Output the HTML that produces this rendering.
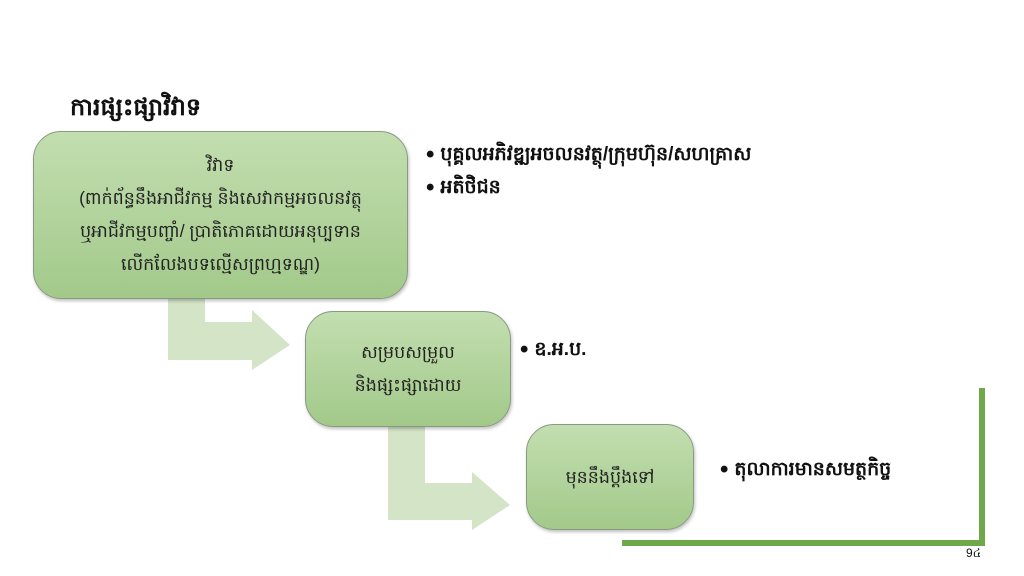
<!DOCTYPE html>
<html><head><meta charset="utf-8"><style>
body{margin:0;width:1024px;height:576px;background:#fff;position:relative;overflow:hidden;font-family:"Liberation Sans","Noto Sans CJK SC",sans-serif;}
.box{position:absolute;border:1.5px solid #8a9a80;border-radius:28px;background:linear-gradient(#c3deb0,#a2c98a);display:flex;align-items:center;justify-content:center;text-align:center;font-size:17.5px;line-height:33px;color:#222;box-shadow:1px 2px 3px rgba(0,0,0,.25);}
.t{position:absolute;font-weight:bold;color:#111;white-space:nowrap;}
.t b{font-size:24px;vertical-align:-2px;margin-right:6px;}
</style></head><body>
<div class="t" style="left:70px;top:92px;font-size:24px;">ការផ្សះផ្សាវិវាទ</div>
<svg style="position:absolute;left:0;top:0" width="1024" height="576">
<path d="M168 298 L205 298 L205 322 L252 322 L252 310 L290 345 L252 370 L252 360 L168 360 Z" fill="#d3e4c7"/>
<path d="M388 425 L425 425 L425 483 L472 483 L472 472 L510 505 L472 530 L472 520 L388 520 Z" fill="#d3e4c7"/>
<rect x="979" y="388" width="6" height="158" fill="#6fa84a"/>
<rect x="622" y="540" width="363" height="6" fill="#6fa84a"/>
</svg>
<div class="box" style="left:33px;top:131px;width:373px;height:166px;">វិវាទ<br>(ពាក់ព័ន្ធនឹងអាជីវកម្ម និងសេវាកម្មអចលនវត្ថុ<br>ឬអាជីវកម្មបញ្ចាំ/ ប្រាតិភោគដោយអនុប្បទាន<br>លើកលែងបទល្មើសព្រហ្មទណ្ឌ)</div>
<div class="box" style="left:305px;top:311px;width:204px;height:114px;">សម្របសម្រួល<br>និងផ្សះផ្សាដោយ</div>
<div class="box" style="left:526px;top:424px;width:166px;height:104px;">មុននឹងប្តឹងទៅ</div>
<div class="t" style="left:426px;top:141px;font-size:19px;"><b>•</b>បុគ្គលអភិវឌ្ឍអចលនវត្ថុ/ក្រុមហ៊ុន/សហគ្រាស</div>
<div class="t" style="left:426px;top:174px;font-size:19px;"><b>•</b>អតិថិជន</div>
<div class="t" style="left:520px;top:336px;font-size:19px;"><b>•</b>ឧ.អ.ប.</div>
<div class="t" style="left:720px;top:456px;font-size:19px;"><b>•</b>តុលាការមានសមត្ថកិច្ច</div>
<div class="t" style="left:966px;top:545px;font-size:12px;font-weight:normal;">9៤</div>
</body></html>
